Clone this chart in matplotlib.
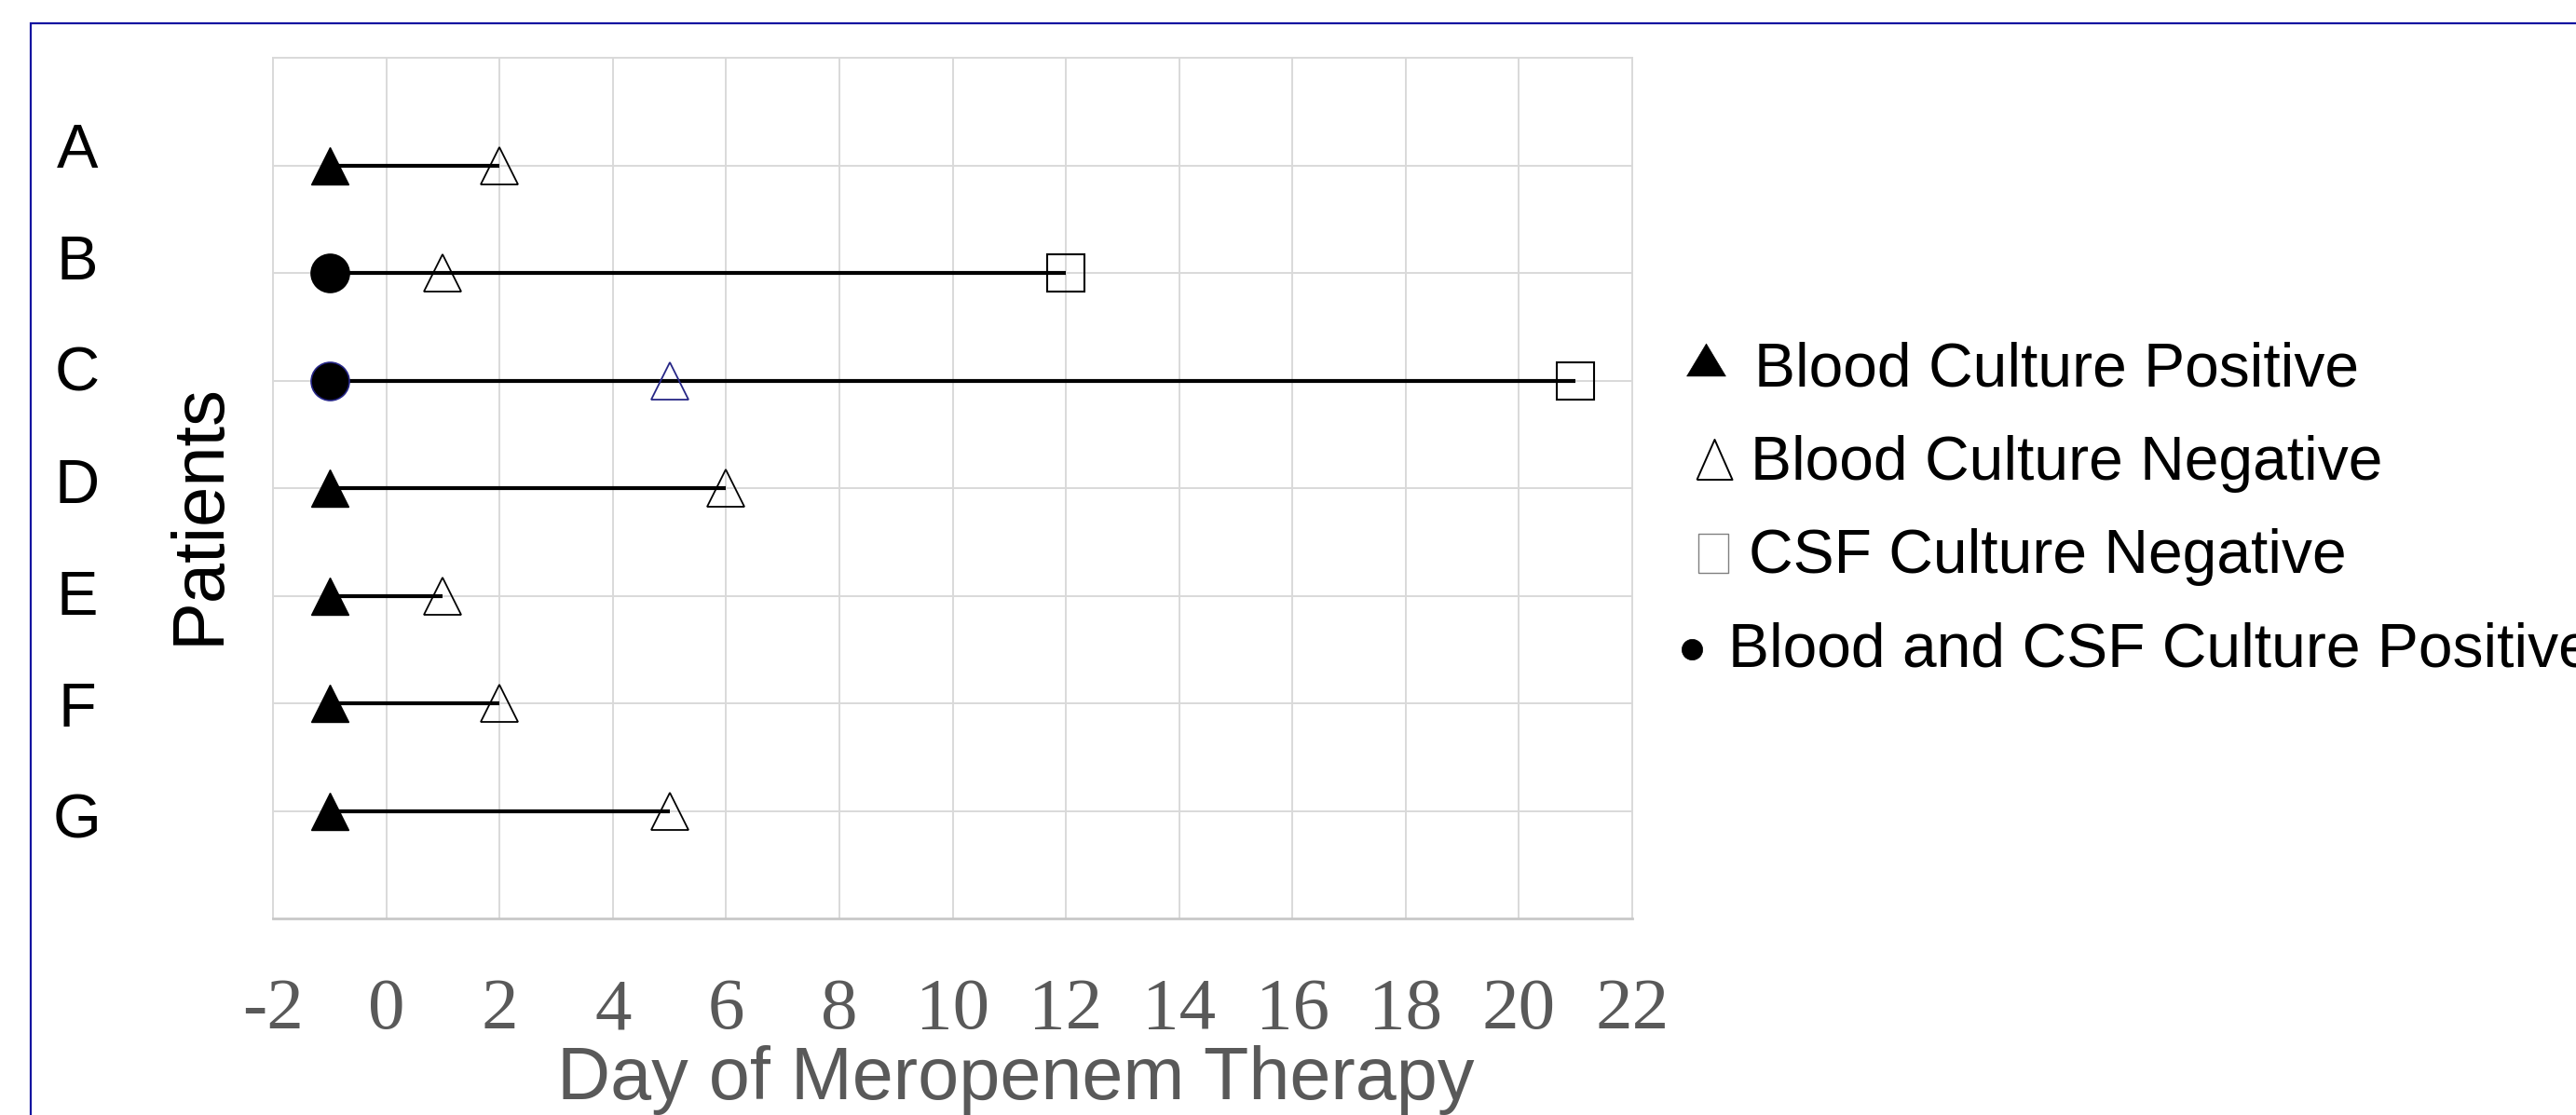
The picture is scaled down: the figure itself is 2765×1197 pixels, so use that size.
import matplotlib
matplotlib.use("Agg")
import matplotlib.pyplot as plt
from matplotlib.lines import Line2D
from matplotlib.patches import Rectangle

plt.rcParams['font.family'] = ['Liberation Sans', 'DejaVu Sans']

W, H = 2765, 1197
DPI = 100

# data
patients = ['A', 'B', 'C', 'D', 'E', 'F', 'G']
start_day = [-1, -1, -1, -1, -1, -1, -1]
start_kind = ['blood', 'both', 'both', 'blood', 'blood', 'blood', 'blood']
blood_neg_day = [2, 1, 5, 6, 1, 2, 5]
csf_neg_day = [None, 12, 21, None, None, None, None]
x_ticks = list(range(-2, 23, 2))

legend_labels = ['Blood Culture Positive', 'Blood Culture Negative',
                 'CSF Culture Negative', 'Blood and CSF Culture Positive']

navy = '#262686'
grid_c = '#d9d9d9'
text_gray = '#595959'


def fx(px):
    return px / W


def fy(py):
    return 1 - py / H


fig = plt.figure(figsize=(W / DPI, H / DPI), dpi=DPI)
ax = fig.add_axes([fx(293), fy(986), fx(1752) - fx(293), fy(62) - fy(986)])

n = len(patients)
for i, p in enumerate(patients):
    y = n - i
    end = csf_neg_day[i] if csf_neg_day[i] is not None else blood_neg_day[i]
    ax.plot([start_day[i], end], [y, y], color='black', lw=3.0, zorder=3,
            solid_capstyle='butt')
    edge = navy if p == 'C' else 'black'
    if start_kind[i] == 'blood':
        ax.plot(start_day[i], y, marker='^', ms=29.5, color='black',
                mec='black', zorder=4)
    else:
        ax.plot(start_day[i], y, marker='o', ms=29.5, color='black',
                mec=edge, mew=1.2, zorder=4)
    ax.plot(blood_neg_day[i], y, marker='^', ms=29, mfc='none', mec=edge,
            mew=1.3, zorder=5)
    if csf_neg_day[i] is not None:
        ax.plot(csf_neg_day[i], y, marker='s', ms=29, mfc='none', mec='black',
                mew=1.5, zorder=5)

ax.set_xlim(-2, 22)
ax.set_ylim(0, 8)
ax.set_xticks(x_ticks)
ax.set_xticklabels([str(t) for t in x_ticks], family='Liberation Serif',
                   fontsize=57, color=text_gray)
ax.set_yticks(range(1, 8))
ax.set_yticklabels([])
ax.tick_params(axis='both', length=0)
ax.tick_params(axis='x', pad=46)
ax.grid(True, color=grid_c, lw=1.4, zorder=0)
ax.set_axisbelow(True)
for s in ax.spines.values():
    s.set_color(grid_c)
    s.set_linewidth(1.4)
ax.spines['bottom'].set_color('#c8c8c8')
ax.spines['bottom'].set_linewidth(2)

ax.set_xlabel('Day of Meropenem Therapy', fontsize=57, color=text_gray)
ax.xaxis.label.set_va('baseline')
ax.xaxis.set_label_coords((1090 - 293) / 1459, (986 - 1180) / 924)

ax.set_ylabel('Patients', fontsize=56, color='black')
ax.yaxis.label.set_va('center')
ax.yaxis.set_label_coords((214 - 293) / 1459, (986 - 552) / 924)

# patient letters sit a bit off the rows in the original
for i, p in enumerate(patients):
    fig.text(fx(83), fy(163 + i * 120), p, fontsize=48, ha='center',
             va='center', color='black')

# hand-made legend
tri_h = 35 / 42
sym = [
    dict(x=1831, y=386, marker=[(-1, -tri_h), (1, -tri_h), (0, tri_h), (-1, -tri_h)],
         ms=30, mfc='black', mec='black', mew=0.5),
    dict(x=1840, y=493, marker=[(-38 / 43, -1), (38 / 43, -1), (0, 1), (-38 / 43, -1)],
         ms=31, mfc='none', mec='black', mew=1.4),
    dict(x=1839, y=594, marker=[(-33 / 42, -1), (33 / 42, -1), (33 / 42, 1), (-33 / 42, 1), (-33 / 42, -1)],
         ms=30, mfc='none', mec='#808080', mew=1.0),
    dict(x=1816, y=697, marker='o', ms=16, mfc='black', mec='black', mew=0.5),
]
text_x = [1883, 1879, 1877, 1855]
text_base = [415, 515, 615, 715]
for s, label, tx, tb in zip(sym, legend_labels, text_x, text_base):
    fig.add_artist(Line2D([fx(s['x'])], [fy(s['y'])], transform=fig.transFigure,
                          marker=s['marker'], ms=s['ms'], mfc=s['mfc'],
                          mec=s['mec'], mew=s['mew'], ls='none'))
    fig.text(fx(tx), fy(tb), label, fontsize=47.5, ha='left', va='baseline',
             color='black')

# blue frame, runs off the right and bottom edges
fig.add_artist(Rectangle((fx(33), -0.1), 1.5, fy(25) + 0.1,
                         transform=fig.transFigure, fill=False,
                         edgecolor='#1414a0', lw=1.6))

fig.savefig('out.png', dpi=DPI)
